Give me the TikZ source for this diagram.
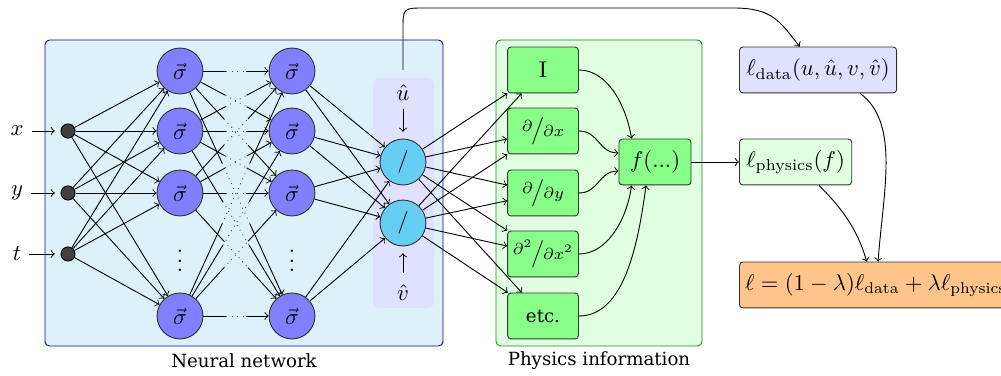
\documentclass[tikz,border=0pt]{standalone}
\usepackage{amsmath}
\usepackage{fontspec}
\newfontfamily\labelfont{DejaVu Serif}
\newcommand{\slfrac}[2]{\raisebox{0.5ex}{$\scriptstyle #1$}\mkern-1mu\big/\mkern-1mu{\scriptstyle #2}}

\definecolor{nnback}{RGB}{221,241,251}
\definecolor{nnline}{RGB}{10,10,140}
\definecolor{infill}{RGB}{64,64,64}
\definecolor{sigfill}{RGB}{128,128,255}
\definecolor{outfill}{RGB}{102,206,242}
\definecolor{uvback}{RGB}{224,224,255}
\definecolor{phback}{RGB}{224,255,224}
\definecolor{phline}{RGB}{20,140,20}
\definecolor{opfill}{RGB}{136,255,136}
\definecolor{lossfill}{RGB}{255,196,138}

\begin{document}
\begin{tikzpicture}[x=0.44pt,y=0.44pt,yscale=-1,xscale=1,
    innode/.style={circle,draw=black,fill=infill,minimum size=6.2pt,inner sep=0pt},
    signode/.style={circle,draw=black!80,fill=sigfill,minimum size=20.2pt,inner sep=0pt},
    outnode/.style={circle,draw=black!80,fill=outfill,minimum size=20.2pt,inner sep=0pt},
    opbox/.style={rectangle,rounded corners=1.5pt,draw=black!80,fill=opfill,minimum width=31.2pt,minimum height=20.2pt,inner sep=1pt},
    lossbox/.style={rectangle,rounded corners=1.5pt,draw=black!80,minimum height=20.2pt,inner xsep=3pt,anchor=west},
    capt/.style={font=\labelfont\fontsize{8}{9.5}\selectfont},
    conn/.style={->,black}]
  \useasboundingbox (0,0) rectangle (1001,376);

  % background boxes
  \draw[nnline,fill=nnback,rounded corners=2pt] (45,40) rectangle (443,346);
  \draw[phline,fill=phback,rounded corners=2pt] (496,40) rectangle (702,346);
  \fill[uvback,rounded corners=3pt] (373,78) rectangle (434,308);
  \node[capt] (nnlabel) at (244,361) {Neural network};
  \node[capt] (phlabel) at (599,361) {Physics information};

  % inputs
  \node[innode] (in-1) at (68,131) {};
  \node[innode] (in-2) at (68,193) {};
  \node[innode] (in-3) at (68,254) {};
  \node (lx) at (17,131) {$x$};
  \node (ly) at (17,193) {$y$};
  \node (lt) at (17,254) {$t$};
  \draw[conn,shorten >=2.5pt] (lx) -- (in-1);
  \draw[conn,shorten >=2.5pt] (ly) -- (in-2);
  \draw[conn,shorten >=2.5pt] (lt) -- (in-3);

  % hidden layers
  \foreach \n/\y in {1/71,2/131,3/193,5/316}{
    \node[signode] (h1-\n) at (180,\y) {$\vec{\sigma}$};
    \node[signode] (h2-\n) at (292,\y) {$\vec{\sigma}$};
  }
  \node (h1-4) at (180,254) {$\vdots$};
  \node (h2-4) at (292,254) {$\vdots$};

  % outputs
  \node[outnode] (out-1) at (403,162) {$/$};
  \node[outnode] (out-2) at (403,223) {$/$};
  \node (uhat) at (403,93) {$\hat{u}$};
  \node (vhat) at (403,293) {$\hat{v}$};
  \coordinate (uvtop) at (403,70);
  \draw[conn,shorten >=3pt] (uhat) -- (out-1);
  \draw[conn,shorten >=3pt,shorten <=2pt] (vhat) -- (out-2);

  % physics operators
  \node[opbox] (op-1) at (543,70) {I};
  \node[opbox] (op-2) at (543,131) {$\slfrac{\partial}{\partial x}$};
  \node[opbox] (op-3) at (543,193) {$\slfrac{\partial}{\partial y}$};
  \node[opbox] (op-4) at (543,254) {$\slfrac{\partial^2}{\partial x^2}$};
  \node[opbox] (op-5) at (543,316) {\labelfont\fontsize{8}{9.5}\selectfont etc.};
  \node[opbox,minimum width=31.7pt] (f) at (655,162) {$f(...)$};

  % losses
  \node[lossbox,fill=uvback,minimum width=66.9pt] (ldata) at (739,70) {$\ell_\text{data}(u,\hat{u},v,\hat{v})$};
  \node[lossbox,fill=phback,minimum width=49.3pt] (lphys) at (739,162) {$\ell_\text{physics}(f)$};
  \node[lossbox,fill=lossfill,inner xsep=2.5pt,font=\fontsize{9.7}{11}\selectfont] (loss) at (739,285) {$\ell = (1-\lambda)\ell_\text{data} + \lambda\ell_\text{physics}$};

  % input -> first layer
  \foreach \i in {1,2,3}
    \foreach \j in {1,2,3,5}
      \draw[conn] (in-\i) -- (h1-\j);
  % first -> second layer, dotted in the middle
  \foreach \i in {1,2,3,5}
    \foreach \j in {1,2,3,5}{
      \path (h1-\i) -- coordinate[pos=0.35] (m1) coordinate[pos=0.65] (m2) (h2-\j);
      \draw (h1-\i) -- (m1);
      \draw[dotted,black!70] (m1) -- (m2);
      \draw[conn] (m2) -- (h2-\j);
    }
  % second layer -> outputs
  \foreach \i in {1,2,3,5}
    \foreach \j in {1,2}
      \draw[conn] (h2-\i) -- (out-\j);
  % outputs -> operators
  \foreach \i in {1,2}
    \foreach \j in {1,...,5}
      \draw[conn] (out-\i) -- (op-\j);

  % operators -> f
  \draw[conn] (op-1.east) .. controls +(28,0) and +(-6,-35) .. (f.135);
  \draw[conn] (op-2.east) .. controls +(20,0) and +(-20,0) .. (f.166);
  \draw[conn] (op-3.east) .. controls +(20,0) and +(-20,0) .. (f.194);
  \draw[conn] (op-4.east) .. controls +(28,0) and +(-5,35) .. (f.225);
  \draw[conn] (op-5.east) .. controls +(45,0) and +(-8,60) .. (f.249);
  \draw[conn] (f) -- (lphys);

  % losses
  \draw[conn] (uvtop) -- (403,30) .. controls (403,8) .. (425,8) -- (733,8) .. controls +(40,0) and +(-20,-25) .. (ldata.128);
  \draw[conn] (ldata.-29) .. controls +(40,30) and +(5,-70) .. ([xshift=1pt]loss.north);
  \draw[conn] (lphys.-45) .. controls +(20,20) and +(-10,-35) .. ([xshift=-4pt]loss.north);
\end{tikzpicture}
\end{document}
